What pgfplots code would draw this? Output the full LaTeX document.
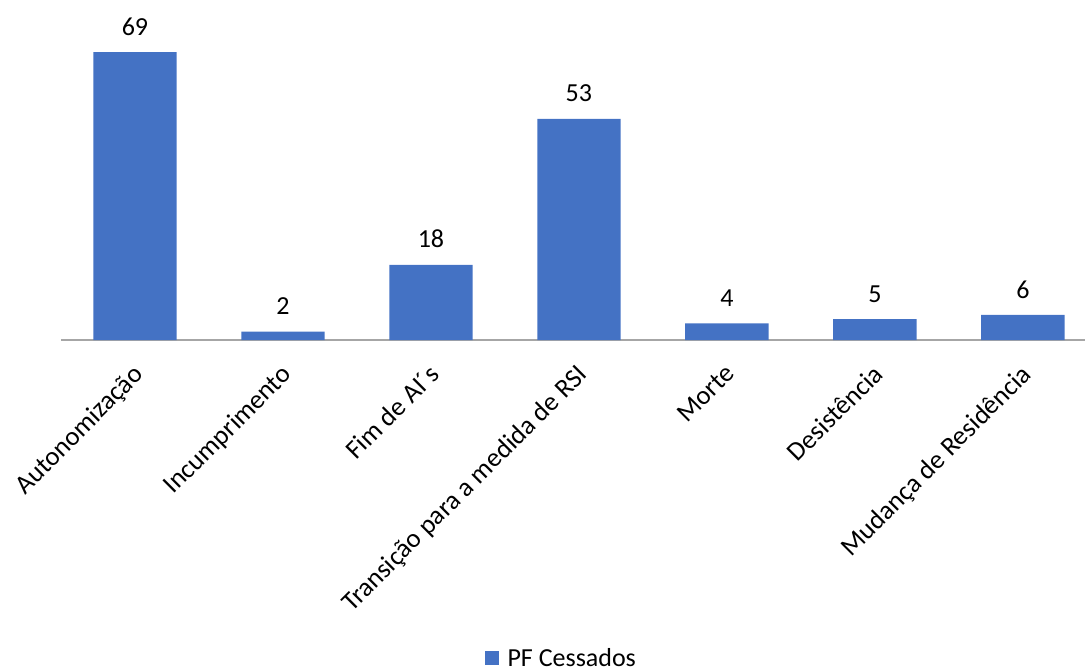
\documentclass[border=0pt]{standalone}
\usepackage{fontspec}
\setmainfont{Carlito}
\usepackage{pgfplots}
\pgfplotsset{compat=1.18}
\definecolor{barblue}{HTML}{4472C4}
\definecolor{axgray}{HTML}{A6A6A6}
\begin{document}
\begin{tikzpicture}
\useasboundingbox (0pt,0pt) rectangle (813.75pt,503.25pt);
\begin{axis}[
  at={(45.75pt,248.25pt)}, anchor=south west,
  scale only axis,
  width=768pt, height=240pt,
  xmin=-0.5, xmax=6.42,
  ymin=0, ymax=76.7,
  axis y line=none,
  axis x line*=bottom,
  x axis line style={axgray, line width=1.2pt, -},
  xtick={0,...,6},
  xticklabels={Autonomização,Incumprimento,Fim de AI´s,Transição para a medida de RSI,Morte,Desistência,Mudança de Residência},
  major tick length=0pt,
  xticklabel style={anchor=north east, inner sep=0pt, xshift=-2.5pt, yshift=-17pt, rotate=45, font=\fontsize{20}{22}\selectfont},
  ybar, bar width=62.5pt,
  nodes near coords,
  /pgf/number format/assume math mode=true,
  every node near coord/.append style={font=\fontsize{19.5}{22}\selectfont, black, yshift=9pt},
  legend style={at={(0.489,-0.994)}, anchor=center, draw=none, font=\fontsize{19.5}{22}\selectfont, inner sep=0pt},
  legend image code/.code={\fill[barblue] (0pt,-5.2pt) rectangle (10.5pt,5.2pt);},
  clip=false,
]
\addplot[fill=barblue, draw=none] coordinates {(0,69) (1,2) (2,18) (3,53) (4,4) (5,5) (6,6)};
\addlegendentry{\hspace{4.5pt}PF Cessados}
\end{axis}
\end{tikzpicture}
\end{document}
